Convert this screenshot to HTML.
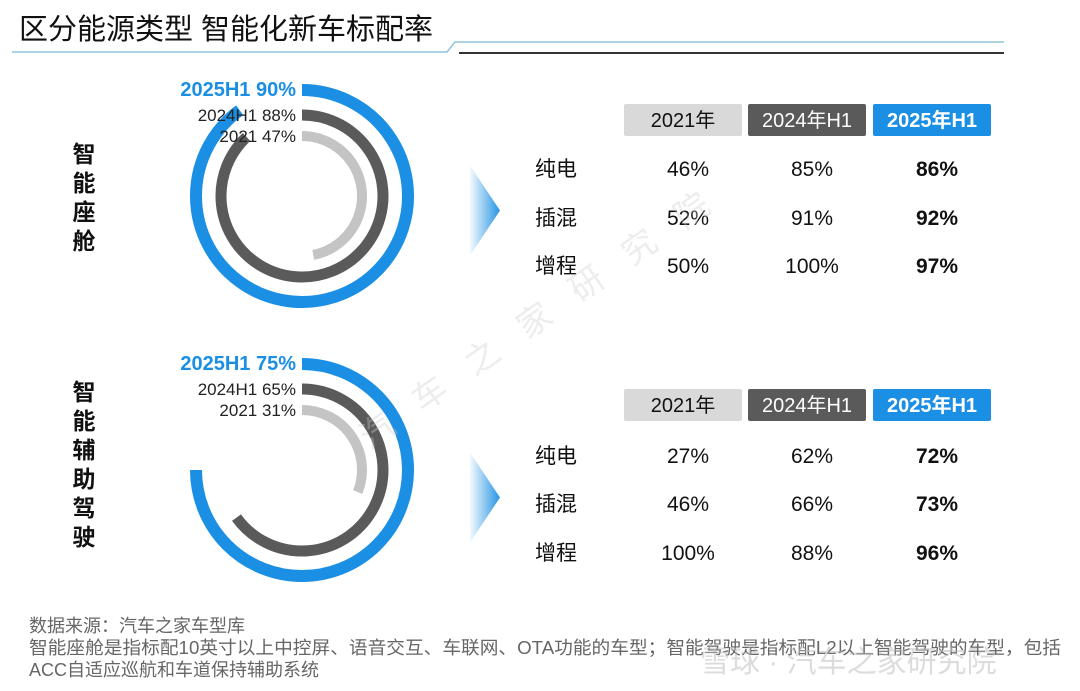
<!DOCTYPE html>
<html><head><meta charset="utf-8">
<style>
body{margin:0;background:#fff;}
#root{position:relative;width:1080px;height:691px;overflow:hidden;font-family:"Liberation Sans","Noto Sans CJK SC",sans-serif;}
svg text{font-family:"Liberation Sans","Noto Sans CJK SC",sans-serif;}
</style></head>
<body>
<div id="root">
<svg id="svg" width="1080" height="691" viewBox="0 0 1080 691">
  <defs>
    <linearGradient id="arrowGrad" x1="0" x2="1" y1="0" y2="0">
      <stop offset="0" stop-color="#1a8fe3" stop-opacity="0.05"/>
      <stop offset="1" stop-color="#1a8fe3" stop-opacity="0.95"/>
    </linearGradient>
  </defs>
  <text x="19" y="39" font-size="29" fill="#111">区分能源类型 智能化新车标配率</text>
  <polyline points="12,52 447,52 455,42 1004,42" fill="none" stroke="#8fc6d6" stroke-width="1.5"/>
  <line x1="459" y1="53" x2="1004" y2="53" stroke="#333" stroke-width="2"/>
  <g id="charts"></g>
  <text x="29" y="632" font-size="18" fill="#666">数据来源：汽车之家车型库</text>
  <text x="29" y="654" font-size="18" fill="#666" textLength="1032" lengthAdjust="spacingAndGlyphs">智能座舱是指标配10英寸以上中控屏、语音交互、车联网、OTA功能的车型；智能驾驶是指标配L2以上智能驾驶的车型，包括</text>
  <text x="29" y="676" font-size="18" fill="#666">ACC自适应巡航和车道保持辅助系统</text>
  <text x="700" y="672" font-size="30" fill="#bbb" opacity="0.5">雪球 · 汽车之家研究院</text>
  <text x="0" y="0" font-size="34" fill="#ccc" opacity="0.35" transform="translate(370,450) rotate(-35)" letter-spacing="30">汽车之家研究院</text>
</svg>
</div>
<script>
// data
const sectionTitles = ["智能座舱", "智能辅助驾驶"];
const ringLabels = ["2025H1", "2024H1", "2021"];
const cockpitRates = [90, 88, 47];
const adasRates = [75, 65, 31];
const columnHeaders = ["2021年", "2024年H1", "2025年H1"];
const energyTypes = ["纯电", "插混", "增程"];
const cockpitTable = [[46, 85, 86], [52, 91, 92], [50, 100, 97]];
const adasTable = [[27, 62, 72], [46, 66, 73], [100, 88, 96]];

const NS = "http://www.w3.org/2000/svg";
const g = document.getElementById("charts");
function mk(tag, attrs, parent) {
  const e = document.createElementNS(NS, tag);
  for (const k in attrs) e.setAttribute(k, attrs[k]);
  (parent || g).appendChild(e);
  return e;
}
const ringColors = ["#1a8fe3", "#5a5a5a", "#c4c4c4"];
const ringR = [106, 81, 60];
const ringW = [12, 11, 10];
function angle(pct) { return pct / 100 * 2 * Math.PI; }
function arcPath(cx, cy, r, pct) {
  const a = angle(Math.min(pct, 99.99));
  const x = cx + r * Math.sin(a), y = cy - r * Math.cos(a);
  const large = pct > 50 ? 1 : 0;
  return `M ${cx} ${cy - r} A ${r} ${r} 0 ${large} 1 ${x} ${y}`;
}
const sections = [
  {cy: 196, rates: cockpitRates, table: cockpitTable, hy: 104, rowY: [168, 217, 265], titleY: 162},
  {cy: 470, rates: adasRates, table: adasTable, hy: 389, rowY: [455, 503, 552], titleY: 400}
];
const cx = 302;
const colX = [683, 807, 932];
const boxFill = ["#d9d9d9", "#5a5a5a", "#1a8fe3"];
const boxText = ["#111", "#fff", "#fff"];
sections.forEach((s, si) => {
  const chars = sectionTitles[si].split("");
  chars.forEach((c, i) => {
    const t = mk("text", {x: 84, y: s.titleY + i * 29, "font-size": 23, "font-weight": "bold", "text-anchor": "middle", fill: "#111"});
    
    
    t.textContent = c;
  });
  s.rates.forEach((v, i) => {
    const p = mk("path", {d: arcPath(cx, s.cy, ringR[i], v), fill: "none", stroke: ringColors[i], "stroke-width": ringW[i]});
    
    
    const ly = s.cy - ringR[i] + (i === 0 ? 6 : 6);
    const t = mk("text", {x: cx - 6, y: ly, "font-size": i === 0 ? 20 : 17, "font-weight": i === 0 ? "bold" : "normal", "text-anchor": "end", fill: i === 0 ? "#1a8fe3" : "#222"});
    
    
    t.textContent = ringLabels[i] + " " + v + "%";
  });
  const ay = (s.rowY[0] + s.rowY[2]) / 2 - 6;
  const ar = mk("polygon", {points: `470,${ay - 45} 500,${ay} 470,${ay + 45}`, fill: "url(#arrowGrad)"});
  
  
  columnHeaders.forEach((h, j) => {
    const r = mk("rect", {x: colX[j] - 59, y: s.hy, width: 118, height: 32, rx: 2, fill: boxFill[j]});
    
    
    const t = mk("text", {x: colX[j], y: s.hy + 23, "font-size": 20, "text-anchor": "middle", fill: boxText[j], "font-weight": j === 2 ? "bold" : "normal"});
    
    
    t.textContent = h;
  });
  energyTypes.forEach((e, r) => {
    const y = s.rowY[r] + 8;
    const t = mk("text", {x: 535, y: y, "font-size": 21, fill: "#111"});
    
    
    t.textContent = e;
    s.table[r].forEach((v, j) => {
      const c = mk("text", {x: colX[j] + 5, y: y, "font-size": 21, "text-anchor": "middle", fill: "#111", "font-weight": j === 2 ? "bold" : "normal"});
      
      
      c.textContent = v + "%";
    });
  });
});
</script>
</body></html>
